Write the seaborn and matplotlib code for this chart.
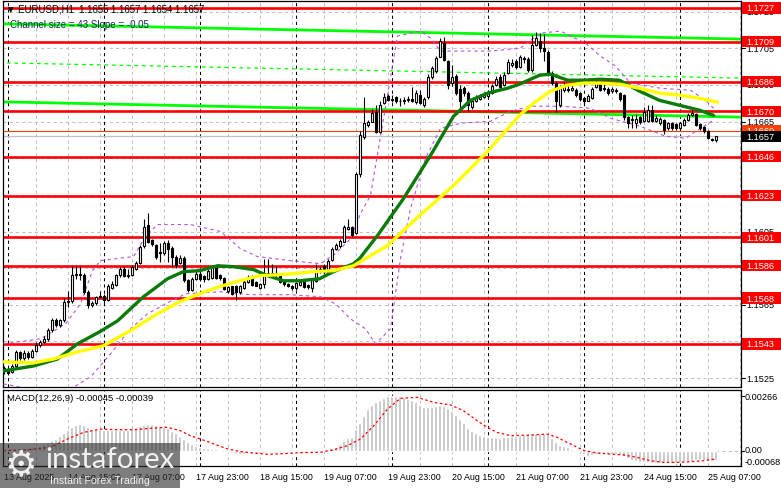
import numpy as np
import pandas as pd
import matplotlib
matplotlib.use("Agg")
import matplotlib.pyplot as plt
import matplotlib.transforms as mtransforms
from matplotlib.patches import Rectangle
import seaborn as sns

# ---------------- data ----------------
opens = [1.15305, 1.15290, 1.15285, 1.15315, 1.15390, 1.15360, 1.15385, 1.15365, 1.15400, 1.15430,
         1.15445, 1.15465, 1.15510, 1.15565, 1.15540, 1.15565, 1.15665, 1.15670, 1.15810, 1.15820,
         1.15815, 1.15720, 1.15650, 1.15660, 1.15690, 1.15700, 1.15675, 1.15740, 1.15760, 1.15810,
         1.15845, 1.15805, 1.15815, 1.15845, 1.15880, 1.15970, 1.16085, 1.16005, 1.15975, 1.15940,
         1.15930, 1.15985, 1.15960, 1.15910, 1.15880, 1.15905, 1.15785, 1.15730, 1.15790, 1.15820,
         1.15805, 1.15790, 1.15795, 1.15855, 1.15815, 1.15795, 1.15725, 1.15750, 1.15755, 1.15720,
         1.15740, 1.15775, 1.15800, 1.15775, 1.15740, 1.15765, 1.15810, 1.15825, 1.15810, 1.15820,
         1.15775, 1.15765, 1.15755, 1.15740, 1.15760, 1.15780, 1.15760, 1.15740, 1.15780, 1.15830,
         1.15860, 1.15830, 1.15895, 1.15955, 1.15970, 1.15995, 1.16065, 1.16075, 1.16040, 1.16365,
         1.16565, 1.16630, 1.16650, 1.16705, 1.16595, 1.16750, 1.16790, 1.16775, 1.16785, 1.16765,
         1.16760, 1.16770, 1.16775, 1.16755, 1.16795, 1.16740, 1.16785, 1.16895, 1.16925, 1.17005,
         1.17080, 1.16980, 1.16860, 1.16900, 1.16830, 1.16835, 1.16805, 1.16730, 1.16760, 1.16775,
         1.16785, 1.16790, 1.16805, 1.16850, 1.16895, 1.16850, 1.16915, 1.16960, 1.16980, 1.16950,
         1.16995, 1.16990, 1.16930, 1.17070, 1.17090, 1.17050, 1.17030, 1.16915, 1.16860, 1.16740,
         1.16825, 1.16830, 1.16825, 1.16825, 1.16805, 1.16780, 1.16765, 1.16780, 1.16840, 1.16860,
         1.16835, 1.16830, 1.16815, 1.16825, 1.16805, 1.16795, 1.16675, 1.16665, 1.16640, 1.16675,
         1.16655, 1.16655, 1.16715, 1.16655, 1.16640, 1.16660, 1.16615, 1.16640, 1.16635, 1.16615,
         1.16630, 1.16660, 1.16685, 1.16690, 1.16635, 1.16620, 1.16600, 1.16555, 1.16550]

closes = [1.15290, 1.15280, 1.15315, 1.15390, 1.15360, 1.15385, 1.15365, 1.15400, 1.15430, 1.15445,
          1.15465, 1.15510, 1.15565, 1.15540, 1.15565, 1.15665, 1.15670, 1.15810, 1.15820, 1.15815,
          1.15720, 1.15650, 1.15660, 1.15690, 1.15700, 1.15675, 1.15755, 1.15765, 1.15810, 1.15845,
          1.15805, 1.15815, 1.15855, 1.15880, 1.15965, 1.16075, 1.15995, 1.15980, 1.15910, 1.15930,
          1.15985, 1.15955, 1.15910, 1.15865, 1.15905, 1.15785, 1.15730, 1.15790, 1.15820, 1.15790,
          1.15790, 1.15835, 1.15855, 1.15795, 1.15795, 1.15735, 1.15745, 1.15710, 1.15720, 1.15750,
          1.15775, 1.15800, 1.15760, 1.15755, 1.15765, 1.15810, 1.15825, 1.15810, 1.15825, 1.15775,
          1.15765, 1.15755, 1.15740, 1.15770, 1.15775, 1.15745, 1.15745, 1.15785, 1.15830, 1.15845,
          1.15830, 1.15890, 1.15955, 1.15975, 1.16000, 1.16075, 1.16075, 1.16030, 1.16365, 1.16575,
          1.16640, 1.16645, 1.16695, 1.16595, 1.16740, 1.16785, 1.16770, 1.16770, 1.16765, 1.16760,
          1.16770, 1.16775, 1.16765, 1.16805, 1.16750, 1.16775, 1.16895, 1.16940, 1.16995, 1.17090,
          1.16985, 1.16850, 1.16895, 1.16805, 1.16765, 1.16805, 1.16740, 1.16760, 1.16785, 1.16785,
          1.16795, 1.16805, 1.16845, 1.16885, 1.16840, 1.16905, 1.16975, 1.16970, 1.16950, 1.17005,
          1.16990, 1.16930, 1.17070, 1.17105, 1.17050, 1.17035, 1.16915, 1.16860, 1.16760, 1.16840,
          1.16850, 1.16825, 1.16835, 1.16795, 1.16775, 1.16760, 1.16790, 1.16830, 1.16865, 1.16825,
          1.16830, 1.16805, 1.16830, 1.16815, 1.16775, 1.16675, 1.16640, 1.16660, 1.16665, 1.16650,
          1.16700, 1.16715, 1.16655, 1.16670, 1.16665, 1.16605, 1.16640, 1.16615, 1.16615, 1.16640,
          1.16660, 1.16685, 1.16695, 1.16630, 1.16615, 1.16600, 1.16560, 1.16550, 1.16570]

highs = [1.15315, 1.15305, 1.15325, 1.15405, 1.15400, 1.15405, 1.15395, 1.15410, 1.15445, 1.15460,
         1.15480, 1.15525, 1.15580, 1.15580, 1.15575, 1.15685, 1.15725, 1.15860, 1.15860, 1.15860,
         1.15825, 1.15730, 1.15670, 1.15700, 1.15725, 1.15710, 1.15765, 1.15780, 1.15820, 1.15855,
         1.15860, 1.15845, 1.15865, 1.15890, 1.15975, 1.16120, 1.16150, 1.16010, 1.15980, 1.15985,
         1.16000, 1.16005, 1.15970, 1.15920, 1.15920, 1.15915, 1.15790, 1.15800, 1.15835, 1.15830,
         1.15815, 1.15845, 1.15865, 1.15860, 1.15820, 1.15800, 1.15755, 1.15755, 1.15760, 1.15760,
         1.15785, 1.15810, 1.15810, 1.15780, 1.15770, 1.15900, 1.15900, 1.15870, 1.15860, 1.15825,
         1.15780, 1.15770, 1.15760, 1.15775, 1.15780, 1.15785, 1.15765, 1.15790, 1.15875, 1.15855,
         1.15870, 1.15900, 1.15965, 1.15985, 1.16010, 1.16085, 1.16120, 1.16080, 1.16375, 1.16600,
         1.16785, 1.16660, 1.16720, 1.16740, 1.16760, 1.16805, 1.16800, 1.16795, 1.16790, 1.16780,
         1.16785, 1.16790, 1.16840, 1.16825, 1.16820, 1.16785, 1.16910, 1.16955, 1.17010, 1.17105,
         1.17110, 1.16985, 1.16960, 1.16910, 1.16850, 1.16845, 1.16815, 1.16775, 1.16795, 1.16800,
         1.16810, 1.16820, 1.16855, 1.16900, 1.16910, 1.16920, 1.16990, 1.16990, 1.16990, 1.17015,
         1.17010, 1.17000, 1.17120, 1.17140, 1.17135, 1.17130, 1.17040, 1.16925, 1.16870, 1.16850,
         1.16865, 1.16855, 1.16850, 1.16835, 1.16810, 1.16785, 1.16800, 1.16840, 1.16875, 1.16865,
         1.16855, 1.16840, 1.16840, 1.16835, 1.16810, 1.16800, 1.16680, 1.16685, 1.16690, 1.16680,
         1.16730, 1.16740, 1.16740, 1.16685, 1.16675, 1.16665, 1.16650, 1.16645, 1.16640, 1.16650,
         1.16670, 1.16695, 1.16720, 1.16695, 1.16640, 1.16625, 1.16605, 1.16560, 1.16570]

lows = [1.15270, 1.15265, 1.15280, 1.15310, 1.15350, 1.15350, 1.15355, 1.15360, 1.15390, 1.15420,
        1.15440, 1.15455, 1.15500, 1.15530, 1.15530, 1.15555, 1.15640, 1.15660, 1.15790, 1.15785,
        1.15710, 1.15635, 1.15640, 1.15650, 1.15685, 1.15660, 1.15670, 1.15735, 1.15755, 1.15800,
        1.15800, 1.15795, 1.15805, 1.15840, 1.15870, 1.15960, 1.15985, 1.15970, 1.15900, 1.15885,
        1.15920, 1.15885, 1.15855, 1.15850, 1.15870, 1.15775, 1.15720, 1.15725, 1.15785, 1.15780,
        1.15775, 1.15785, 1.15790, 1.15790, 1.15785, 1.15730, 1.15715, 1.15705, 1.15675, 1.15710,
        1.15735, 1.15770, 1.15755, 1.15750, 1.15735, 1.15740, 1.15805, 1.15800, 1.15800, 1.15770,
        1.15755, 1.15745, 1.15730, 1.15730, 1.15755, 1.15740, 1.15735, 1.15720, 1.15775, 1.15825,
        1.15820, 1.15825, 1.15890, 1.15950, 1.15960, 1.15990, 1.16060, 1.16020, 1.16035, 1.16350,
        1.16555, 1.16620, 1.16645, 1.16585, 1.16590, 1.16745, 1.16760, 1.16755, 1.16750, 1.16735,
        1.16745, 1.16755, 1.16755, 1.16745, 1.16745, 1.16730, 1.16775, 1.16885, 1.16915, 1.17000,
        1.16980, 1.16830, 1.16845, 1.16795, 1.16700, 1.16790, 1.16710, 1.16720, 1.16755, 1.16770,
        1.16780, 1.16785, 1.16800, 1.16845, 1.16835, 1.16845, 1.16910, 1.16950, 1.16935, 1.16940,
        1.16970, 1.16920, 1.16920, 1.17060, 1.17030, 1.16980, 1.16900, 1.16850, 1.16705, 1.16730,
        1.16810, 1.16810, 1.16815, 1.16785, 1.16765, 1.16740, 1.16760, 1.16775, 1.16835, 1.16815,
        1.16815, 1.16795, 1.16805, 1.16805, 1.16765, 1.16660, 1.16615, 1.16615, 1.16615, 1.16635,
        1.16645, 1.16650, 1.16645, 1.16645, 1.16630, 1.16580, 1.16605, 1.16605, 1.16605, 1.16610,
        1.16625, 1.16655, 1.16680, 1.16625, 1.16605, 1.16590, 1.16555, 1.16545, 1.16540]

# moving averages (sampled along the bars)
green_ma_bar = [0, 7.5, 13.5, 18.5, 24, 28.5, 35, 41, 45, 49, 53.5, 57.5, 62.5, 66, 70, 74, 79, 82.5,
                87.5, 89, 93.5, 100, 106.75, 112.5, 116.75, 121, 126, 129, 134, 136.75, 141, 145, 149,
                154, 159, 164, 169, 174, 177.5]
green_ma = [1.15289, 1.15316, 1.15354, 1.15437, 1.15502, 1.15562, 1.15694, 1.15792, 1.15831, 1.15836,
            1.15863, 1.15858, 1.15842, 1.15809, 1.15781, 1.15781, 1.15792, 1.15831, 1.15874, 1.15902,
            1.16028, 1.16230, 1.16465, 1.16679, 1.16766, 1.16805, 1.16832, 1.16854, 1.16903, 1.16909,
            1.16876, 1.16876, 1.16881, 1.16876, 1.16816, 1.16766, 1.16739, 1.16712, 1.16684]
yellow_ma_bar = [0, 7.5, 12.5, 18.5, 25, 32.5, 38.5, 44, 49, 54, 59, 64, 68.5, 72.5, 77.5, 82.5, 87.5,
                 96, 104, 112.5, 121, 129, 132.5, 136.75, 141, 145, 149, 154, 159, 164, 169, 174, 178.5]
yellow_ma = [1.15338, 1.15333, 1.15354, 1.15393, 1.15426, 1.15519, 1.15601, 1.15666, 1.15710, 1.15749,
             1.15781, 1.15809, 1.15814, 1.15820, 1.15831, 1.15836, 1.15863, 1.15973, 1.16137, 1.16301,
             1.16487, 1.16684, 1.16750, 1.16816, 1.16849, 1.16860, 1.16860, 1.16854, 1.16832, 1.16805,
             1.16794, 1.16777, 1.16756]

# bands
upper_band_bar = [0, 9.25, 15.5, 19.25, 22.25, 24.25, 32.5, 35.5, 38.5, 46.75, 54.25, 59.25, 63.5, 71.75,
                  79.25, 83, 86.75, 89.25, 91.75, 96, 98.5, 104.25, 106.75, 109.25, 121.75, 129.25,
                  134.25, 139.25, 145.5, 149.25, 153, 156.75, 164.25, 171.75, 175.5, 177.5]
upper_band = [1.15437, 1.15464, 1.15546, 1.15655, 1.15836, 1.15891, 1.15913, 1.16022, 1.16088, 1.16088,
              1.16050, 1.15956, 1.15913, 1.15891, 1.15874, 1.15929, 1.16011, 1.16148, 1.16247, 1.16794,
              1.17117, 1.17144, 1.17106, 1.17035, 1.17035, 1.17051, 1.17133, 1.17144, 1.17078, 1.17007,
              1.16953, 1.16860, 1.16832, 1.16821, 1.16766, 1.16723]
lower_band_bar = [0, 9.25, 16.75, 21.75, 26.75, 31.75, 36, 40.5, 45.5, 54.25, 61.75, 71.75, 79.25, 83,
                  86.75, 90.5, 93, 96.75, 99.25, 101.75, 105.5, 109.25, 114.25, 121.75, 126.75, 131.75,
                  139.25, 146.75, 151.75, 159.25, 165.5, 170.5, 174.25, 177.5]
lower_band = [1.15218, 1.15179, 1.15190, 1.15256, 1.15382, 1.15519, 1.15601, 1.15655, 1.15710, 1.15721,
              1.15705, 1.15705, 1.15694, 1.15655, 1.15573, 1.15519, 1.15437, 1.15519, 1.15902, 1.16175,
              1.16449, 1.16613, 1.16641, 1.16652, 1.16706, 1.16734, 1.16734, 1.16723, 1.16668, 1.16624,
              1.16570, 1.16559, 1.16613, 1.16657]

# regression channel (end points)
channel_bar = [-1, 185]
channel_upper = [1.17184, 1.17100]
channel_mid = [1.16971, 1.16887]
channel_lower = [1.16758, 1.16674]

# horizontal levels and their labels
level_values = [1.17270, 1.17086, 1.16868, 1.16706, 1.16458, 1.16245, 1.16018, 1.15863, 1.15687, 1.15436]
level_labels = ["1.1727", "1.1709", "1.1686", "1.1670", "1.1646", "1.1623", "1.1601", "1.1586", "1.1568", "1.1543"]
grid_prices = [1.1525, 1.1545, 1.1565, 1.1585, 1.1605, 1.1625, 1.1645, 1.1665, 1.1685, 1.1705, 1.1725]
# scale labels that stay readable next to the level boxes
scale_labels = [1.1525, 1.1565, 1.1605, 1.1665, 1.1685, 1.1705, 1.1725]
bid_price = 1.1657
ask_line_price = 1.1660

# MACD (histogram, in units of 1e-5)
macd_hist_e5 = [3, 3, 5, 6, 10, 13, 16, 19, 23, 26,
                34, 45, 53, 58, 71, 87, 103, 115, 126, 131,
                126, 115, 106, 106, 106, 103, 103, 102, 103, 100,
                103, 102, 106, 111, 119, 126, 131, 129, 126, 121,
                116, 110, 98, 85, 74, 58, 42, 32, 26, 19,
                15, 13, 11, 10, 6, 0, -6, -11, -16, -15,
                -13, -10, -11, -11, -13, -10, -6, -6, -8, -10,
                -11, -11, -11, -10, -10, -10, -10, -8, -5, -3,
                -2, 5, 15, 21, 34, 48, 61, 68, 106, 135,
                171, 203, 223, 236, 248, 258, 264, 266, 266, 264,
                260, 254, 245, 236, 223, 213, 211, 214, 219, 224,
                219, 206, 192, 176, 155, 134, 113, 98, 87, 79,
                71, 68, 66, 66, 65, 66, 68, 71, 74, 77,
                79, 82, 85, 89, 89, 87, 81, 65, 42, 29,
                23, 18, 11, 6, 2, -15, -23, -19, -16, -15,
                -15, -15, -15, -16, -19, -23, -32, -42, -48, -52,
                -55, -55, -56, -56, -56, -58, -58, -56, -56, -55,
                -52, -48, -47, -44, -44, -45, -47, -47, -45]
signal_bar = [0, 5.5, 11.75, 16, 20, 24.25, 28.4, 32.6, 36.75, 41, 44.25, 46.75, 49.25, 52.6, 56,
              59.25, 62.6, 66, 70, 74.25, 79.25, 82.6, 86, 89.25, 92.6, 96, 99.25, 103.4, 107.6,
              111.75, 115, 118.4, 120.9, 123.4, 126.75, 131.75, 136, 138.4, 141.75, 145.1, 148.4,
              151.75, 155, 158.4, 161.75, 165, 168.4, 171.75, 175, 178]
signal_e5 = [2, 5, 18, 58, 90, 106, 103, 103, 110, 115, 98, 74, 58, 34, 10, -3, -10, -16, -13, -8,
             -6, 6, 26, 58, 123, 203, 255, 260, 235, 223, 195, 147, 115, 90, 74, 77, 82, 66, 34, 2,
             -10, -15, -19, -31, -47, -55, -55, -52, -47, -39]

time_label_bars = [0, 16, 32, 48, 64, 80, 96, 112, 128, 144, 160, 176]
time_labels = ["13 Aug 2025", "14 Aug 15:00", "17 Aug 07:00", "17 Aug 23:00", "18 Aug 15:00",
               "19 Aug 07:00", "19 Aug 23:00", "20 Aug 15:00", "21 Aug 07:00", "21 Aug 23:00",
               "24 Aug 15:00", "25 Aug 07:00"]

# ---------------- figure ----------------
sns.set_theme(style="white")
plt.rcParams["font.family"] = ["Liberation Sans", "DejaVu Sans"]

W, H = 781, 489
fig = plt.figure(figsize=(W / 100, H / 100), dpi=100)
fig.patch.set_facecolor("white")


def fx(px):
    return px / W


def fy(py):
    return 1 - py / H


ax = fig.add_axes([fx(3), fy(388), fx(741) - fx(3), fy(2) - fy(388)])
axm = fig.add_axes([fx(3), fy(467), fx(741) - fx(3), fy(391) - fy(467)])

df = pd.DataFrame({"open": opens, "high": highs, "low": lows, "close": closes})
df["bar"] = np.arange(len(df))
assert len(df) == len(macd_hist_e5)

XL = (-0.125, 184.375)
YL = (1.152012, 1.173082)
ML = (-0.000726, 0.0029524)

grid_kw = dict(color="#c0c0c0", lw=0.75, linestyle=(0, (3, 3)), zorder=0.5)
sep_kw = dict(color="black", lw=0.75, linestyle=(0, (3, 3)), zorder=0.6)
for a in (ax, axm):
    a.set_facecolor("white")
    for b in range(8, 185, 8):
        a.axvline(b, **grid_kw)
    for b in range(1, 185, 24):
        a.axvline(b, **sep_kw)
    for s in a.spines.values():
        s.set_color("black")
        s.set_linewidth(0.9)
        s.set_visible(True)
    a.set_xticks([])
    a.set_yticks([])
    a.set_xlim(*XL)

for g in grid_prices:
    ax.axhline(g, **grid_kw)

# channel
sns.lineplot(x=channel_bar, y=channel_upper, ax=ax, color="#00ff00", lw=2.0, zorder=1, legend=False)
sns.lineplot(x=channel_bar, y=channel_lower, ax=ax, color="#00ff00", lw=2.0, zorder=1, legend=False)
sns.lineplot(x=channel_bar, y=channel_mid, ax=ax, color="#00ff00", lw=0.9, linestyle=(0, (3, 3)),
             zorder=1, legend=False)

# levels
for lv in level_values:
    ax.axhline(lv, color="#ff0000", lw=1.9, zorder=2)
ax.axhline(ask_line_price, color="#ff4000", lw=0.8, zorder=2)
ax.axhline(bid_price, color="#c0c0c0", lw=0.9, zorder=2)

# bands
sns.lineplot(x=upper_band_bar, y=upper_band, ax=ax, color="#b455dc", lw=0.8, linestyle=(0, (3, 3)),
             zorder=3, legend=False)
sns.lineplot(x=lower_band_bar, y=lower_band, ax=ax, color="#b455dc", lw=0.8, linestyle=(0, (3, 3)),
             zorder=3, legend=False)

# candles
ax.vlines(df["bar"], df["low"], df["high"], color="black", lw=0.8, zorder=4)
body_lo = np.minimum(df["open"], df["close"])
body_h = np.abs(df["close"] - df["open"])
fc = np.where(df["close"] >= df["open"], "white", "black")
ax.bar(df["bar"], body_h, bottom=body_lo, width=0.5, color=fc, edgecolor="black", linewidth=0.8, zorder=4.2)

# moving averages
sns.lineplot(x=green_ma_bar, y=green_ma, ax=ax, color="#0a7a0a", lw=2.4, zorder=5, legend=False)
sns.lineplot(x=yellow_ma_bar, y=yellow_ma, ax=ax, color="#ffff00", lw=2.4, zorder=5, legend=False)

ax.set_ylim(*YL)
ax.set_xlim(*XL)

# MACD
macd_hist = np.array(macd_hist_e5) * 1e-5
signal = np.array(signal_e5) * 1e-5
axm.axhline(0, **grid_kw)
axm.bar(df["bar"], macd_hist, width=0.72, color="#c0c0c0", zorder=2)
sns.lineplot(x=signal_bar, y=signal, ax=axm, color="#ff0000", lw=0.9, linestyle=(0, (2, 2)),
             zorder=3, legend=False)
axm.set_ylim(*ML)
axm.set_xlim(*XL)

# ---------------- right-side price scale ----------------
trp = mtransforms.blended_transform_factory(fig.transFigure, ax.transData)
trm = mtransforms.blended_transform_factory(fig.transFigure, axm.transData)
fs = 6.6
for g in grid_prices:
    fig.add_artist(plt.Line2D([fx(741), fx(745)], [g, g], transform=trp, color="black", lw=0.8, zorder=5))
for g in scale_labels:
    fig.text(fx(746), g, f"{g:.4f}", transform=trp, ha="left", va="center", fontsize=fs,
             color="black", zorder=5)

hh = 5.6 / 18320
for lv, lab in zip(level_values, level_labels):
    fig.add_artist(Rectangle((fx(742), lv - hh), fx(781) - fx(742), 2 * hh, transform=trp,
                             facecolor="#ff0000", edgecolor="none", zorder=6))
    fig.text(fx(746), lv, lab, transform=trp, ha="left", va="center", fontsize=fs, color="white", zorder=7)

fig.add_artist(Rectangle((fx(742), ask_line_price - hh), fx(781) - fx(742), 2 * hh, transform=trp,
                         facecolor="#ff4000", edgecolor="none", zorder=6))
fig.text(fx(746), ask_line_price, "1.1660", transform=trp, ha="left", va="center", fontsize=fs,
         color="white", zorder=7)
fig.add_artist(Rectangle((fx(742), bid_price - hh), fx(781) - fx(742), 2 * hh, transform=trp,
                         facecolor="black", edgecolor="none", zorder=7.5))
fig.text(fx(746), bid_price, "1.1657", transform=trp, ha="left", va="center", fontsize=fs,
         color="white", zorder=8)

# MACD scale
fig.text(fx(745), 0.00266, "0.00266", transform=trm, ha="left", va="center", fontsize=fs, color="black")
fig.text(fx(745), fy(451), "0.00", ha="left", va="center", fontsize=fs, color="black")
fig.text(fx(745), fy(463), "-0.00068", ha="left", va="center", fontsize=fs, color="black")
for v in (0.00266, 0.0):
    fig.add_artist(plt.Line2D([fx(741), fx(744)], [v, v], transform=trm, color="black", lw=0.8))

# time axis
trt = mtransforms.blended_transform_factory(axm.transData, fig.transFigure)
for b, lab in zip(time_label_bars, time_labels):
    fig.text(b, fy(478), lab, transform=trt, ha="left", va="center", fontsize=6.4, color="black")

# ---------------- overlay texts ----------------
fig.text(fx(6), fy(10), "\u25bc EURUSD,H1  1.1655 1.1657 1.1654 1.1657", ha="left", va="center",
         fontsize=6.9, color="black", zorder=9)
fig.text(fx(10), fy(24.5), "Channel size = 43 Slope = -0.05", ha="left", va="center",
         fontsize=7.0, color="#14285a", zorder=9)
fig.text(fx(7), fy(399), "MACD(12,26,9) -0.00045 -0.00039", ha="left", va="center",
         fontsize=6.8, color="black", zorder=9)

# watermark
fig.add_artist(Rectangle((0, fy(489)), fx(180), (489 - 444) / H, transform=fig.transFigure,
                         facecolor="#2e2e2e", alpha=0.62, edgecolor="none", zorder=20))
fig.text(fx(5), fy(465), "\u2699", ha="left", va="center", fontsize=26, color="#f0f0f0",
         family=["DejaVu Sans"], zorder=21)
fig.text(fx(45), fy(460), "instaforex", ha="left", va="center", fontsize=21.2, color="#f2f2f2",
         family=["Lato", "DejaVu Sans"], zorder=21)
fig.text(fx(50), fy(481), "Instant Forex Trading", ha="left", va="center", fontsize=7.6,
         color="#f0f0f0", zorder=21)

fig.savefig("out.png", dpi=100, facecolor="white")
